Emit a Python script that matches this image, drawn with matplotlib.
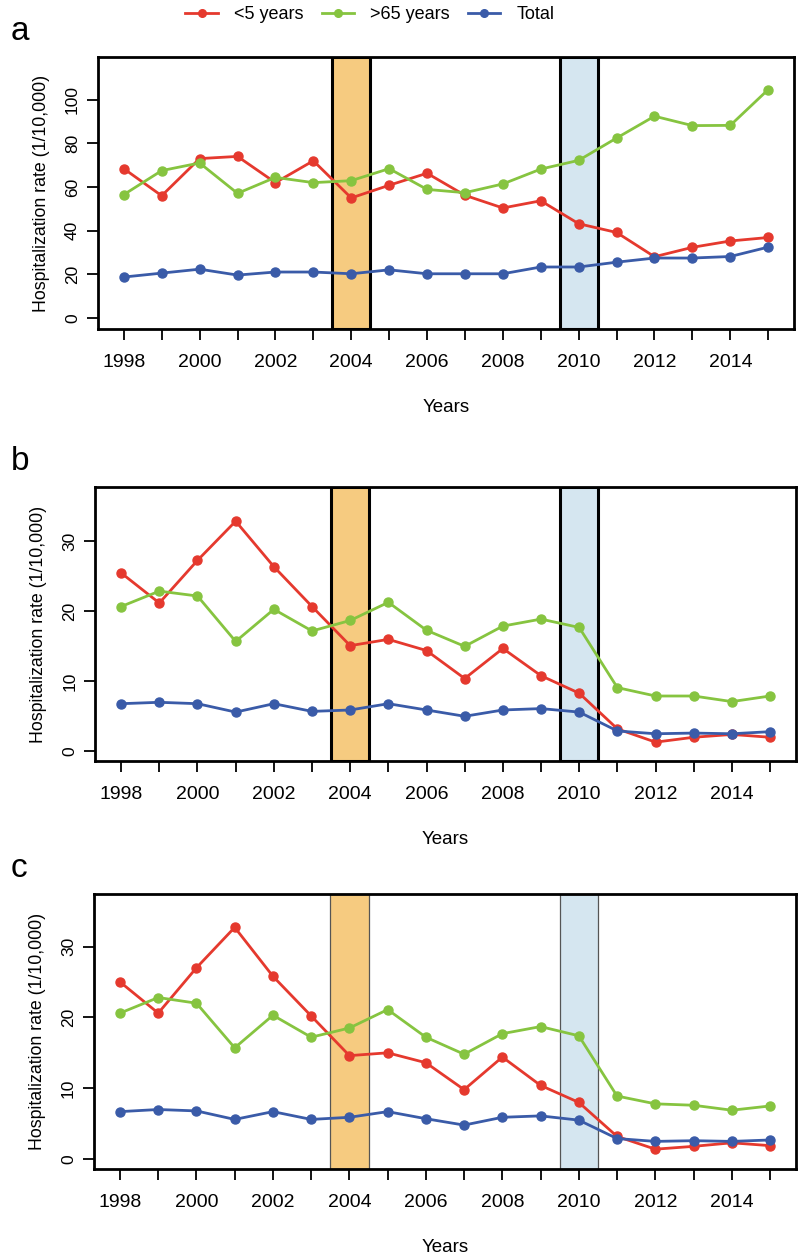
import numpy as np
import matplotlib
matplotlib.use('Agg')
import matplotlib.pyplot as plt
from matplotlib.lines import Line2D

plt.rcParams['font.family'] = ['Liberation Sans', 'DejaVu Sans']

years = list(range(1998, 2016))

# panel a
a_under5 = [68.4, 56.0, 73.0, 74.0, 62.0, 72.0, 55.0, 60.8, 66.3, 56.2, 50.4, 53.7, 43.2, 39.2, 28.1, 32.4, 35.3, 36.9]
a_over65 = [56.5, 67.5, 71.0, 57.1, 64.4, 62.0, 62.9, 68.4, 58.9, 57.4, 61.4, 68.2, 72.2, 82.4, 92.4, 88.1, 88.2, 104.6]
a_total = [18.8, 20.6, 22.4, 19.7, 21.1, 21.1, 20.3, 22.1, 20.3, 20.3, 20.3, 23.4, 23.4, 25.6, 27.5, 27.5, 28.2, 32.5]

# panel b
b_under5 = [25.5, 21.2, 27.3, 32.9, 26.4, 20.7, 15.1, 16.0, 14.4, 10.4, 14.7, 10.8, 8.3, 3.2, 1.3, 2.0, 2.4, 2.0]
b_over65 = [20.7, 22.9, 22.2, 15.7, 20.3, 17.2, 18.7, 21.3, 17.3, 15.0, 17.9, 18.9, 17.7, 9.1, 7.9, 7.9, 7.1, 7.9]
b_total = [6.8, 7.0, 6.8, 5.6, 6.8, 5.7, 5.9, 6.8, 5.9, 5.0, 5.9, 6.1, 5.6, 2.9, 2.5, 2.6, 2.5, 2.8]

# panel c
c_under5 = [25.0, 20.6, 27.0, 32.7, 25.8, 20.2, 14.6, 15.0, 13.6, 9.8, 14.4, 10.4, 8.0, 3.2, 1.4, 1.8, 2.3, 1.9]
c_over65 = [20.6, 22.8, 22.0, 15.7, 20.3, 17.2, 18.5, 21.1, 17.2, 14.8, 17.7, 18.7, 17.4, 8.9, 7.8, 7.6, 6.9, 7.5]
c_total = [6.7, 7.0, 6.8, 5.6, 6.7, 5.6, 5.9, 6.7, 5.7, 4.8, 5.9, 6.1, 5.5, 2.9, 2.5, 2.6, 2.5, 2.7]

series_names = ['<5 years', '>65 years', 'Total']
colors = ['#E5392E', '#86C440', '#3A5BA8']
band_years = [2004, 2010]
band_colors = ['#F6CB80', '#D5E6F0']

panels = [
    ('a', [a_under5, a_over65, a_total], [0, 20, 40, 60, 80, 100], (-5.0, 119.5),
     [0.1225, 0.7378, 0.87, 0.2168], 'black', 2.2),
    ('b', [b_under5, b_over65, b_total], [0, 10, 20, 30], (-1.4, 37.8),
     [0.119, 0.3936, 0.876, 0.2184], 'black', 2.2),
    ('c', [c_under5, c_over65, c_total], [0, 10, 20, 30], (-1.4, 37.4),
     [0.1175, 0.0685, 0.8775, 0.2191], '#555555', 0.9),
]

fig = plt.figure(figsize=(8, 12.55), dpi=100)

for letter, data, yt, ylim, pos, edge, elw in panels:
    ax = fig.add_axes(pos)
    for yr, bc in zip(band_years, band_colors):
        ax.axvspan(yr - 0.5, yr + 0.5, facecolor=bc, edgecolor=edge, linewidth=elw, zorder=1)
    for vals, col in zip(data, colors):
        ax.plot(years, vals, color=col, lw=2, marker='o', markersize=6.5, zorder=3)
    ax.set_xlim(1997.32, 2015.68)
    ax.set_ylim(*ylim)
    ax.set_xticks(years)
    ax.set_xticklabels([str(y) if y % 2 == 0 else '' for y in years], fontsize=14)
    ax.set_yticks(yt)
    ax.set_yticklabels([str(v) for v in yt], rotation=90, va='center', fontsize=12.5)
    ax.tick_params(length=8, width=1.3, pad=5)
    ax.tick_params(axis='x', pad=10)
    for s in ax.spines.values():
        s.set_linewidth(2)
    ax.set_ylabel('Hospitalization rate (1/10,000)', fontsize=12.8, labelpad=11)
    ax.set_xlabel('Years', fontsize=13.5, labelpad=20)
    bb = ax.get_position()
    fig.text(0.013, bb.y1 + 0.008, letter, fontsize=24, va='bottom', ha='left')

handles = [Line2D([], [], color=c, lw=2, marker='o', markersize=5.5) for c in colors]
fig.legend(handles, series_names, loc='upper center', bbox_to_anchor=(0.4625, 1.008),
           ncol=3, frameon=False, fontsize=13, handlelength=1.8, columnspacing=1.0,
           handletextpad=0.9)

fig.savefig('out.png', dpi=100)
